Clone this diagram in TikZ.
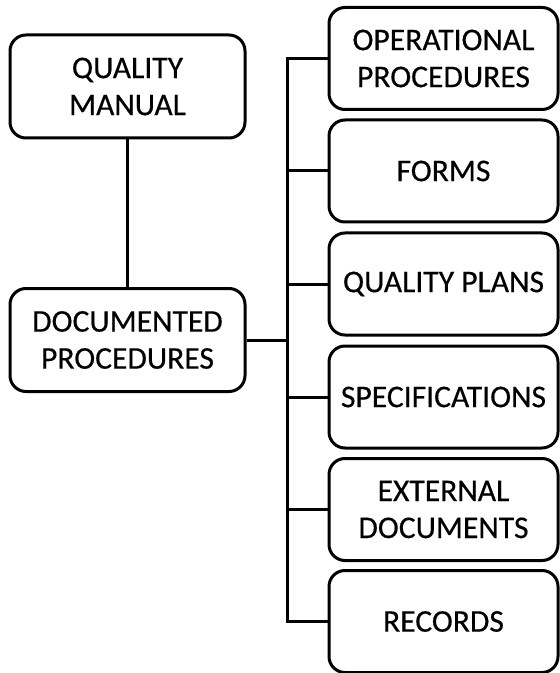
\documentclass[tikz,border=0pt]{standalone}
\usepackage{fontspec}
\setmainfont{Carlito}
\begin{document}
\begin{tikzpicture}[x=0.5pt,y=-0.5pt,
  box/.style={draw=black, line width=1.5pt, rounded corners=8pt, align=center,
    font=\fontsize{15.8}{18.5}\selectfont\addfontfeature{FakeBold=0.4}, inner sep=0pt},
  leftbox/.style={box, minimum width=117.5pt, minimum height=51.5pt},
  rightbox/.style={box, minimum width=114.5pt, minimum height=51pt},
  conn/.style={line width=1.5pt}]
\useasboundingbox (0,0) rectangle (560,673);
\node[leftbox] (qm) at (127.5,86.5) {QUALITY\\MANUAL};
\node[leftbox] (dp) at (127.5,340) {DOCUMENTED\\PROCEDURES};
\node[rightbox] (b1) at (443.5,58.5) {OPERATIONAL\\PROCEDURES};
\node[rightbox] (b2) at (443.5,171) {FORMS};
\node[rightbox] (b3) at (443.5,284) {QUALITY PLANS};
\node[rightbox] (b4) at (443.5,397) {SPECIFICATIONS};
\node[rightbox] (b5) at (443.5,509.5) {EXTERNAL\\DOCUMENTS};
\node[rightbox] (b6) at (443.5,621.5) {RECORDS};
\coordinate (bus) at (287,340);
\draw[conn] (qm) -- (dp);
\draw[conn] (b1.west) -- (b1.west -| bus) -- (b6.west -| bus) -- (b6.west);
\foreach \n in {b2,b3,b4,b5}{\draw[conn] (\n.west) -- (\n.west -| bus);}
\draw[conn] (dp.east) -- (bus);
\end{tikzpicture}
\end{document}
